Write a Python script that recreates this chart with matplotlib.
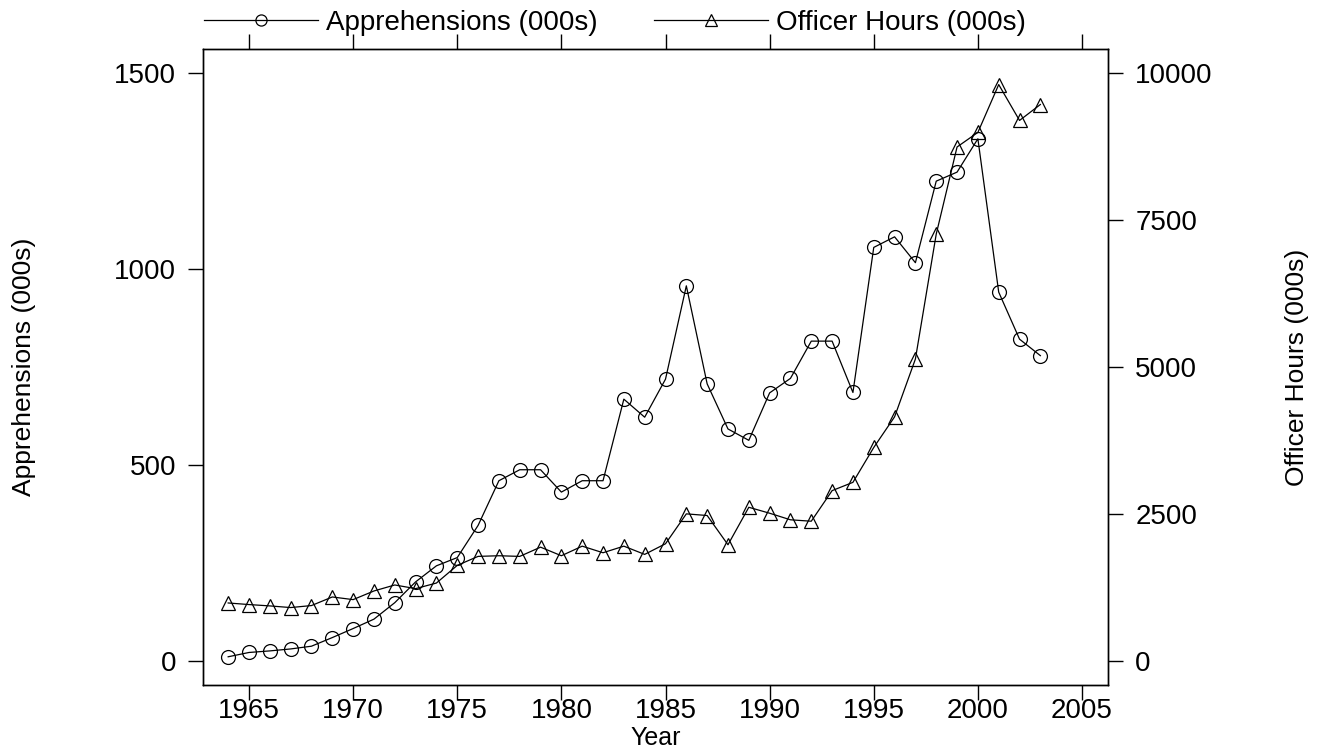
import matplotlib
matplotlib.use("Agg")
import matplotlib.pyplot as plt

plt.rcParams['font.family'] = ['Liberation Sans', 'DejaVu Sans']

# --- data ---
years = list(range(1964, 2004))
apprehensions = [11, 22, 26, 31, 38, 60, 83, 107, 149, 202,
                 243, 264, 346, 460, 488, 488, 431, 460, 460, 668,
                 622, 719, 957, 707, 592, 563, 684, 721, 816, 816,
                 685, 1055, 1082, 1016, 1224, 1247, 1332, 941, 821, 779]
officer_hours = [988, 961, 938, 910, 944, 1090, 1045, 1192, 1294, 1232,
                 1327, 1627, 1780, 1791, 1780, 1937, 1791, 1954, 1842, 1954,
                 1814, 1995, 2503, 2475, 1978, 2615, 2514, 2402, 2378, 2898,
                 3039, 3632, 4153, 5136, 7260, 8741, 8989, 9802, 9192, 9463]

x_ticks = [1965, 1970, 1975, 1980, 1985, 1990, 1995, 2000, 2005]
left_ticks = [0, 500, 1000, 1500]
right_ticks = [0, 2500, 5000, 7500, 10000]

fig, ax = plt.subplots(figsize=(13.18, 7.48), dpi=100)
fig.subplots_adjust(left=0.154, right=0.8407, top=0.9345, bottom=0.0842)
ax2 = ax.twinx()

l1, = ax.plot(years, apprehensions, color='black', lw=0.9, marker='o',
              markersize=10, markerfacecolor='none', markeredgewidth=0.9,
              label='Apprehensions (000s)')
l2, = ax2.plot(years, officer_hours, color='black', lw=0.9, marker='^',
               markersize=10, markerfacecolor='none', markeredgewidth=0.9,
               label='Officer Hours (000s)')

ax.set_xlim(1962.79, 2006.25)
ax.set_ylim(-61, 1561)
ax2.set_ylim(-407, 10407)

ax.set_xticks(x_ticks)
ax.set_yticks(left_ticks)
ax2.set_yticks(right_ticks)

# ticks stick out on all four sides, labels only bottom/left/right
ax.tick_params(axis='both', direction='out', length=10.5, width=1, labelsize=20)
ax.tick_params(axis='x', top=True, labeltop=False, pad=-1)
ax.tick_params(axis='y', pad=9)
ax2.tick_params(axis='y', direction='out', length=10.5, width=1, labelsize=20, pad=9)

ax.set_xlabel('Year', fontsize=18, labelpad=1)
ax.set_ylabel('Apprehensions (000s)', fontsize=19, labelpad=56)
ax2.set_ylabel('Officer Hours (000s)', fontsize=19, labelpad=52)

for a in (ax, ax2):
    for s in a.spines.values():
        s.set_linewidth(1)

fig.legend(handles=[l1, l2], loc='upper left', bbox_to_anchor=(0.136, 1.02),
           ncol=2, frameon=False, fontsize=20, handlelength=4.1,
           markerscale=0.8, columnspacing=2.0, handletextpad=0.3, numpoints=1)

fig.savefig('out.png', dpi=100)
